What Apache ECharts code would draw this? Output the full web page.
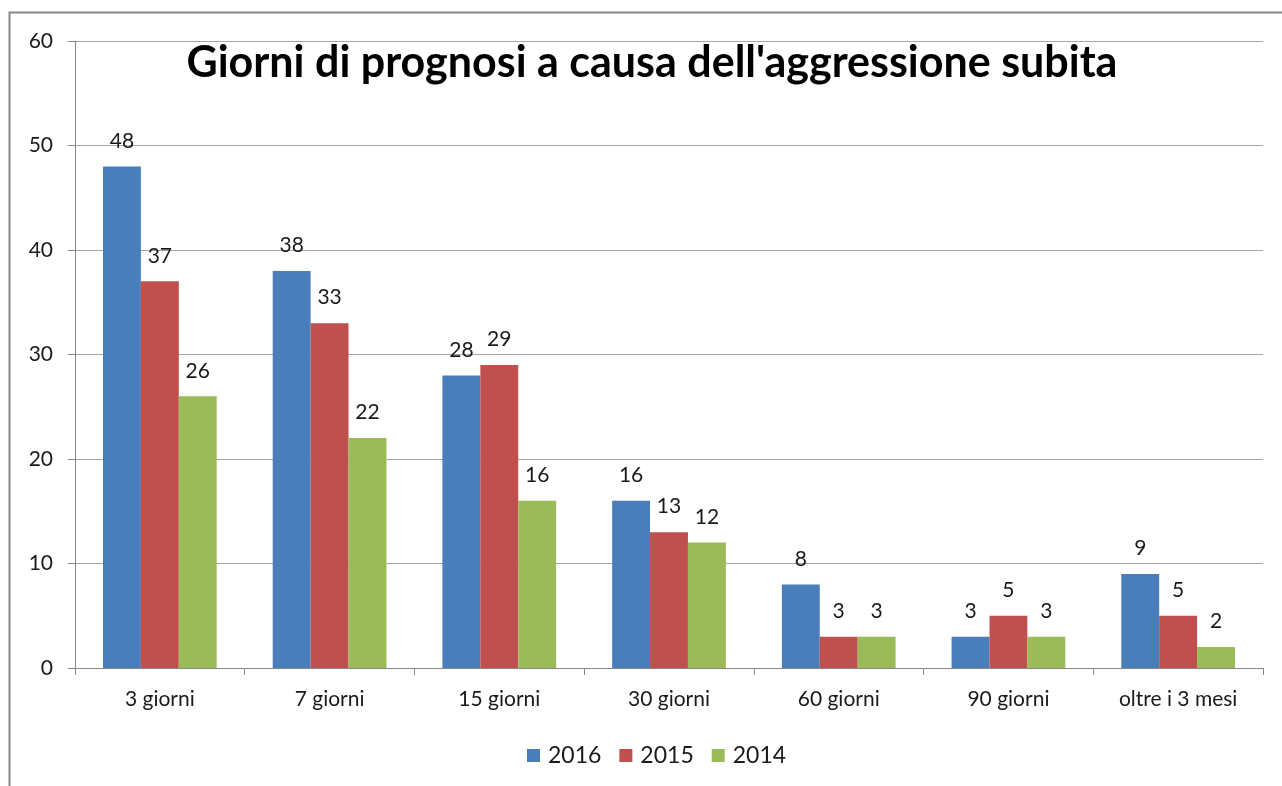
<!DOCTYPE html>
<html><head><meta charset="utf-8">
<script src="https://cdn.jsdelivr.net/npm/echarts@6/dist/echarts.min.js"></script>
<style>html,body{margin:0;padding:0;background:#fff}#c{width:1282px;height:786px}</style>
</head><body><div id="c"></div>
<script>
const categories = ['3 giorni','7 giorni','15 giorni','30 giorni','60 giorni','90 giorni','oltre i 3 mesi'];
const s2016 = [48,38,28,16,8,3,9];
const s2015 = [37,33,29,13,3,5,5];
const s2014 = [26,22,16,12,3,3,2];
const seriesNames = ['2016','2015','2014'];
const colors = ['#4A7EBB','#C0504D','#9BBB59'];
const font = 'Lato, "Open Sans", sans-serif';
const chart = echarts.init(document.getElementById('c'));
const lbl = {show:true, position:'top', distance:15, color:'#1a1a1a', fontSize:21, fontFamily:font};
chart.setOption({
  animation:false,
  color: colors,
  title:{text:"Giorni di prognosi a causa dell'aggressione subita", left:647, textAlign:'center', top:37,
    textStyle:{fontFamily:font, fontWeight:'bold', fontSize:43, color:'#000'}},
  graphic:[{type:'rect', shape:{x:9.5,y:12.5,width:1400,height:900}, style:{fill:null, stroke:'#878787', lineWidth:2}, silent:true}],
  legend:{bottom:14, left:522, itemWidth:13, itemHeight:13, itemGap:18, icon:'rect',
    textStyle:{fontFamily:font, fontSize:23, color:'#1a1a1a', padding:[0,0,0,3]}},
  grid:{left:75, right:19, top:41, bottom:118, containLabel:false},
  xAxis:{type:'category', data:categories,
    axisLine:{lineStyle:{color:'#868686'}}, axisTick:{show:true, length:7, lineStyle:{color:'#868686'}},
    axisLabel:{fontFamily:font, fontSize:21, color:'#1a1a1a', margin:21}},
  yAxis:{type:'value', min:0, max:60, interval:10,
    axisLine:{show:true, lineStyle:{color:'#868686'}}, axisTick:{show:true, length:7, lineStyle:{color:'#868686'}},
    splitLine:{lineStyle:{color:'#a6a6a6'}},
    axisLabel:{fontFamily:font, fontSize:21, color:'#1a1a1a', margin:22}},
  series:[
    {name:seriesNames[0], type:'bar', data:s2016, barGap:'0%', barCategoryGap:'33%', label:lbl},
    {name:seriesNames[1], type:'bar', data:s2015, label:lbl},
    {name:seriesNames[2], type:'bar', data:s2014, label:lbl}
  ]
});
</script></body></html>
